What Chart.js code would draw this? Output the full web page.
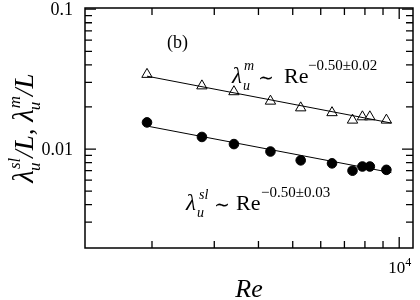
<!DOCTYPE html>
<html><head><meta charset="utf-8">
<script src="https://cdn.jsdelivr.net/npm/chart.js@4.4.0/dist/chart.umd.min.js"></script>
<style>html,body{margin:0;padding:0;background:#fff;}#wrap{width:420px;height:300px;}</style>
</head><body><div id="wrap"><canvas id="c" width="420" height="300"></canvas></div>
<script>
// ---- data ----
const reValues   = [1936, 2768, 3410, 4325, 5266, 6457, 7379, 7870, 8260, 9200];
const lambdaM    = [0.0342, 0.0283, 0.0257, 0.0220, 0.0197, 0.0182, 0.0161, 0.0170, 0.0170, 0.0161];
const lambdaSL   = [0.0155, 0.0122, 0.01085, 0.0096, 0.0083, 0.0079, 0.0070, 0.0075, 0.0075, 0.0071];
const fitRe      = [1936, 9500];
const fitM       = [0.0332, 0.01534];
const fitSL      = [0.0146, 0.00678];
const xMajorTicks = [10000];
const xMinorTicks = [2000, 3000, 4000, 5000, 6000, 7000, 8000, 9000];
const yMajorTicks = [0.01, 0.1];
const yMinorTicks = [0.003, 0.004, 0.005, 0.006, 0.007, 0.008, 0.009, 0.02, 0.03, 0.04, 0.05, 0.06, 0.07, 0.08, 0.09];
const yTickLabels = ['0.01', '0.1'];

const pts = (xs, ys) => xs.map((x, i) => ({x: x, y: ys[i]}));
const SERIF = '"Liberation Serif","DejaVu Serif",serif';

function txt(ctx, s, x, y, size, italic, fam) {
  ctx.font = (italic ? 'italic ' : '') + size + 'px ' + (fam || SERIF);
  ctx.fillText(s, x, y);
  return ctx.measureText(s).width;
}

const decor = {
  id: 'decor',
  afterDraw(chart) {
    const ctx = chart.ctx, a = chart.chartArea;
    const xs = chart.scales.x, ys = chart.scales.y;
    ctx.save();
    ctx.strokeStyle = '#000';
    ctx.fillStyle = '#000';
    // frame
    ctx.lineWidth = 1.5;
    ctx.strokeRect(a.left, a.top, a.right - a.left, a.bottom - a.top);
    // ticks (inward, mirrored)
    ctx.lineWidth = 1.3;
    ctx.beginPath();
    const xt = (v, len) => { const p = xs.getPixelForValue(v);
      ctx.moveTo(p, a.bottom); ctx.lineTo(p, a.bottom - len);
      ctx.moveTo(p, a.top); ctx.lineTo(p, a.top + len); };
    const yt = (v, len) => { const p = ys.getPixelForValue(v);
      ctx.moveTo(a.left, p); ctx.lineTo(a.left + len, p);
      ctx.moveTo(a.right, p); ctx.lineTo(a.right - len, p); };
    xMinorTicks.forEach(v => xt(v, 7));
    xMajorTicks.forEach(v => xt(v, 11));
    yMinorTicks.forEach(v => yt(v, 7));
    yMajorTicks.forEach(v => yt(v, 11));
    ctx.stroke();

    // tick labels
    ctx.textBaseline = 'alphabetic';
    ctx.textAlign = 'right';
    yMajorTicks.forEach((v, i) => {
      const p = ys.getPixelForValue(v);
      txt(ctx, yTickLabels[i], a.left - 12, p + 6, 18, false);
    });
    ctx.textAlign = 'left';
    const p4 = xs.getPixelForValue(xMajorTicks[0]);
    let w = txt(ctx, '10', p4 - 11, a.bottom + 25, 17, false);
    txt(ctx, '4', p4 - 11 + w, a.bottom + 18, 12, false);

    // x title
    ctx.textAlign = 'center';
    txt(ctx, 'Re', (a.left + a.right) / 2, 297, 26, true);
    ctx.textAlign = 'left';

    // y title (rotated)
    ctx.save();
    ctx.translate(33, (a.top + a.bottom) / 2);
    ctx.rotate(-Math.PI / 2);
    const measure = (s, size, it) => { ctx.font = (it ? 'italic ' : '') + size + 'px ' + SERIF; return ctx.measureText(s).width; };
    const B = 27, S = 17;
    const wl = measure('\u03BB', B + 2, true), wu = measure('u', S, true), wsl = measure('sl', S, true),
          wm = measure('m', S, true), wL = measure('/L, ', B, true), wL2 = measure('/L', B, true);
    const total = wl + Math.max(wu, wsl) + wL + wl + Math.max(wu, wm) + wL2 + 2;
    let x = -total / 2;
    txt(ctx, '\u03BB', x, 0, B + 2, true); x += wl;
    txt(ctx, 'u', x - 1, 7, S, true); txt(ctx, 'sl', x + 1, -13, S, true); x += Math.max(wu, wsl) + 1;
    txt(ctx, '/L, ', x, 0, B, true); x += wL;
    txt(ctx, '\u03BB', x, 0, B + 2, true); x += wl;
    txt(ctx, 'u', x - 1, 7, S, true); txt(ctx, 'm', x + 1, -13, S, true); x += Math.max(wu, wm) + 1;
    txt(ctx, '/L', x, 0, B, true);
    ctx.restore();

    // panel label
    txt(ctx, '(b)', 167, 48, 18, false);

    const TILDE = '"DejaVu Serif",serif';
    // annotation for meander
    txt(ctx, '\u03BB', 232, 83, 23, true);
    txt(ctx, 'u', 243, 90, 14, true);
    txt(ctx, 'm', 244, 70, 14, true);
    txt(ctx, '\u223C', 258, 84, 19, false, TILDE);
    txt(ctx, 'Re', 284, 83, 22, false);
    txt(ctx, '\u22120.50\u00B10.02', 308, 70, 15, false);

    // annotation for streak line
    txt(ctx, '\u03BB', 186, 210, 23, true);
    txt(ctx, 'u', 197, 217, 14, true);
    txt(ctx, 'sl', 199, 199, 14, true);
    txt(ctx, '\u223C', 214, 211, 19, false, TILDE);
    txt(ctx, 'Re', 236, 210, 22, false);
    txt(ctx, '\u22120.50\u00B10.03', 261, 197, 15, false);
    ctx.restore();
  }
};

new Chart(document.getElementById('c').getContext('2d'), {
  type: 'scatter',
  data: { datasets: [
    { data: pts(fitRe, fitM), showLine: true, borderColor: '#000', borderWidth: 1, pointRadius: 0 },
    { data: pts(fitRe, fitSL), showLine: true, borderColor: '#000', borderWidth: 1, pointRadius: 0 },
    { data: pts(reValues, lambdaM), pointStyle: 'triangle', pointRadius: 6, backgroundColor: '#fff', borderColor: '#000', borderWidth: 1 },
    { data: pts(reValues, lambdaSL), pointStyle: 'circle', pointRadius: 4.8, backgroundColor: '#000', borderColor: '#000', borderWidth: 1 }
  ]},
  options: {
    responsive: false, animation: false, devicePixelRatio: 1, events: [],
    layout: { padding: { left: 85, top: 8, right: 3, bottom: 52 } },
    plugins: { legend: { display: false }, tooltip: { enabled: false } },
    scales: {
      x: { type: 'logarithmic', display: false, min: 1293, max: 10940 },
      y: { type: 'logarithmic', display: false, min: 0.00196, max: 0.102 }
    }
  },
  plugins: [decor]
});
</script></body></html>
